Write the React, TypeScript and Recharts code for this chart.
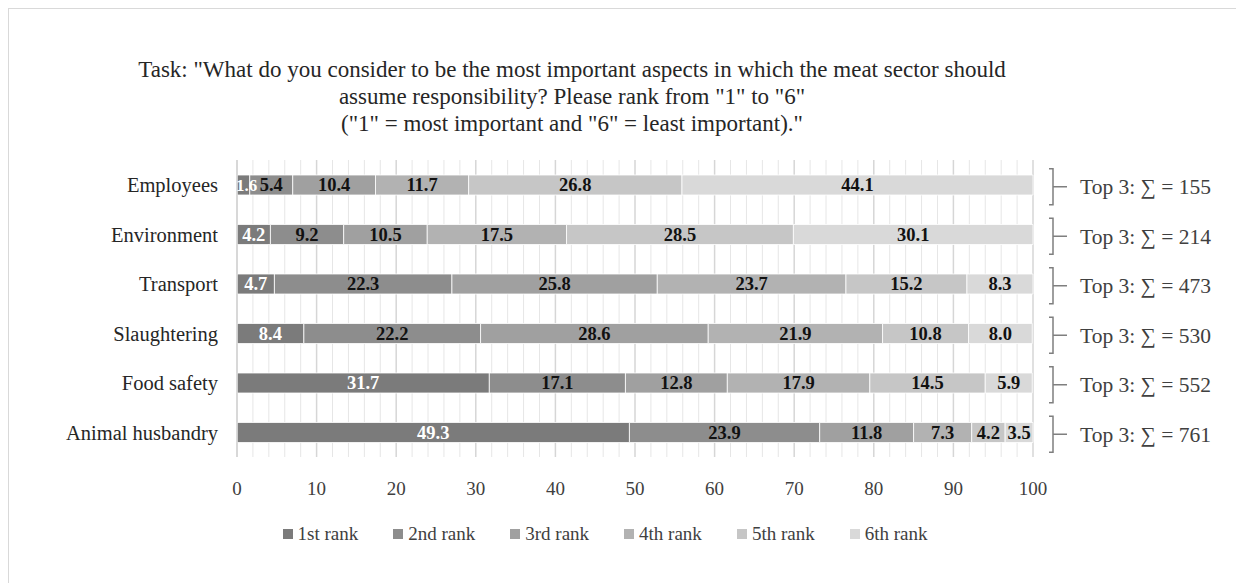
import React from 'react';
import { BarChart, Bar, XAxis, YAxis, CartesianGrid, LabelList } from 'recharts';

const categories = ['Employees', 'Environment', 'Transport', 'Slaughtering', 'Food safety', 'Animal husbandry'];
const rank1 = [1.6, 4.2, 4.7, 8.4, 31.7, 49.3];
const rank2 = [5.4, 9.2, 22.3, 22.2, 17.1, 23.9];
const rank3 = [10.4, 10.5, 25.8, 28.6, 12.8, 11.8];
const rank4 = [11.7, 17.5, 23.7, 21.9, 17.9, 7.3];
const rank5 = [26.8, 28.5, 15.2, 10.8, 14.5, 4.2];
const rank6 = [44.1, 30.1, 8.3, 8.0, 5.9, 3.5];
const top3Sums = [155, 214, 473, 530, 552, 761];

const seriesKeys = ['r1', 'r2', 'r3', 'r4', 'r5', 'r6'];
const seriesNames = ['1st rank', '2nd rank', '3rd rank', '4th rank', '5th rank', '6th rank'];
const seriesColors = ['#7b7b7b', '#8d8d8d', '#a0a0a0', '#b2b2b2', '#c6c6c6', '#d9d9d9'];
const labelColors = ['#ffffff', '#111111', '#111111', '#111111', '#111111', '#111111'];

const majorTicks = [0, 10, 20, 30, 40, 50, 60, 70, 80, 90, 100];
const minorTicks = [2, 4, 6, 8, 12, 14, 16, 18, 22, 24, 26, 28, 32, 34, 36, 38, 42, 44, 46, 48, 52, 54, 56, 58, 62, 64, 66, 68, 72, 74, 76, 78, 82, 84, 86, 88, 92, 94, 96, 98];

const titleLines = [
  'Task: "What do you consider to be the most important aspects in which the meat sector should',
  'assume responsibility? Please rank from "1" to "6"',
  '("1" = most important and "6" = least important)."',
];

const seriesValues = [rank1, rank2, rank3, rank4, rank5, rank6];
const data = categories.map((c, i) => {
  const row: any = { category: c, sum: top3Sums[i] };
  seriesKeys.forEach((k, j) => { row[k] = seriesValues[j][i]; });
  return row;
});

const FONT = '"Liberation Serif", "Times New Roman", serif';

const minorGen = (props: any) => {
  const xAxis = props && props.xAxis;
  if (xAxis && typeof xAxis.scale === 'function') {
    return minorTicks.map((t) => xAxis.scale(t));
  }
  const off = props.offset;
  return minorTicks.map((t) => off.left + (t / 100) * off.width);
};

const SumTick = (props: any) => {
  const { x, y, payload } = props;
  const idx = categories.indexOf(payload.value);
  const cy = y + 2;
  return (
    <g>
      <path
        d={`M${x + 16},${cy - 18} H${x + 20} V${cy + 18} H${x + 16} M${x + 20},${cy} H${x + 34}`}
        stroke="#7f7f7f"
        strokeWidth={1.5}
        fill="none"
      />
      <text x={x + 47} y={cy} dy="0.35em" fill="#404040" fontSize={21.5} fontFamily={FONT}>
        {`Top 3: \u2211 = ${top3Sums[idx]}`}
      </text>
    </g>
  );
};

const makeLabel = (color: string) => (props: any) => {
  const { x, y, width, height, value } = props;
  const text = Number(value).toFixed(1);
  const estW = text.length * 7.6;
  const narrow = width < estW + 2;
  return (
    <text
      x={narrow ? x - 1 : x + width / 2}
      y={y + height / 2}
      dy="0.35em"
      textAnchor={narrow ? 'start' : 'middle'}
      fill={color}
      fontSize={narrow ? 17 : 18.5}
      fontWeight="bold"
      fontFamily={FONT}
    >
      {text}
    </text>
  );
};

export default function App() {
  return (
    <div style={{ position: 'relative', width: 1236, height: 575, fontFamily: FONT }}>
      <div style={{ position: 'absolute', left: 0, top: 0, width: 1236, height: 575, borderTop: '1.5px solid #d9d9d9', borderLeft: '1.5px solid #d9d9d9', boxSizing: 'border-box' }} />
      <div style={{ position: 'absolute', left: 0, top: 48, width: 1128, textAlign: 'center', fontSize: 23, lineHeight: '27px', color: '#262626', fontFamily: FONT }}>
        {titleLines.map((l, i) => (<div key={i} style={{ whiteSpace: 'nowrap' }}>{l}</div>))}
      </div>
      <div style={{ position: 'absolute', top: 0, left: 0 }}>
        <BarChart
          width={1236}
          height={575}
          data={data}
          layout="vertical"
          margin={{ top: 152, right: 0, bottom: 0, left: 0 }}
          barSize={20}
        >
          <CartesianGrid yAxisId="left" horizontal={false} verticalCoordinatesGenerator={minorGen} stroke="#e6e6e6" strokeWidth={1} />
          <CartesianGrid yAxisId="left" horizontal={false} stroke="#d6d6d6" strokeWidth={1.5} />
          <XAxis
            type="number"
            domain={[0, 100]}
            ticks={majorTicks}
            height={126}
            axisLine={false}
            tickLine={false}
            tickSize={0}
            tickMargin={25}
            tick={{ fill: '#404040', fontSize: 19, fontFamily: FONT }}
            interval={0}
          />
          <YAxis
            yAxisId="left"
            type="category"
            dataKey="category"
            width={229}
            axisLine={{ stroke: '#d6d6d6', strokeWidth: 1.5 }}
            tickLine={false}
            tickSize={0}
            tickMargin={19}
            tick={{ fill: '#262626', fontSize: 20.5, fontFamily: FONT }}
            interval={0}
          />
          <YAxis
            yAxisId="right"
            orientation="right"
            type="category"
            dataKey="category"
            width={211}
            axisLine={false}
            tickLine={false}
            tickSize={0}
            tickMargin={0}
            tick={<SumTick />}
            interval={0}
          />
          {seriesKeys.map((k, j) => (
            <Bar
              key={k}
              dataKey={k}
              name={seriesNames[j]}
              stackId="a"
              yAxisId="left"
              fill={seriesColors[j]}
              stroke="#ffffff"
              strokeWidth={0.8}
              isAnimationActive={false}
            >
              <LabelList dataKey={k} content={makeLabel(labelColors[j])} />
            </Bar>
          ))}
        </BarChart>
      </div>
      <div style={{ position: 'absolute', top: 515, left: 0, width: 1194, display: 'flex', justifyContent: 'center', fontSize: 19, color: '#404040', lineHeight: '22px', fontFamily: FONT }}>
        {seriesNames.map((n, j) => (
          <div key={n} style={{ display: 'flex', alignItems: 'center', marginRight: j < 5 ? 35 : 0 }}>
            <span style={{ display: 'inline-block', width: 10, height: 10, background: seriesColors[j], marginRight: 5 }} />
            <span>{n}</span>
          </div>
        ))}
      </div>
    </div>
  );
}
